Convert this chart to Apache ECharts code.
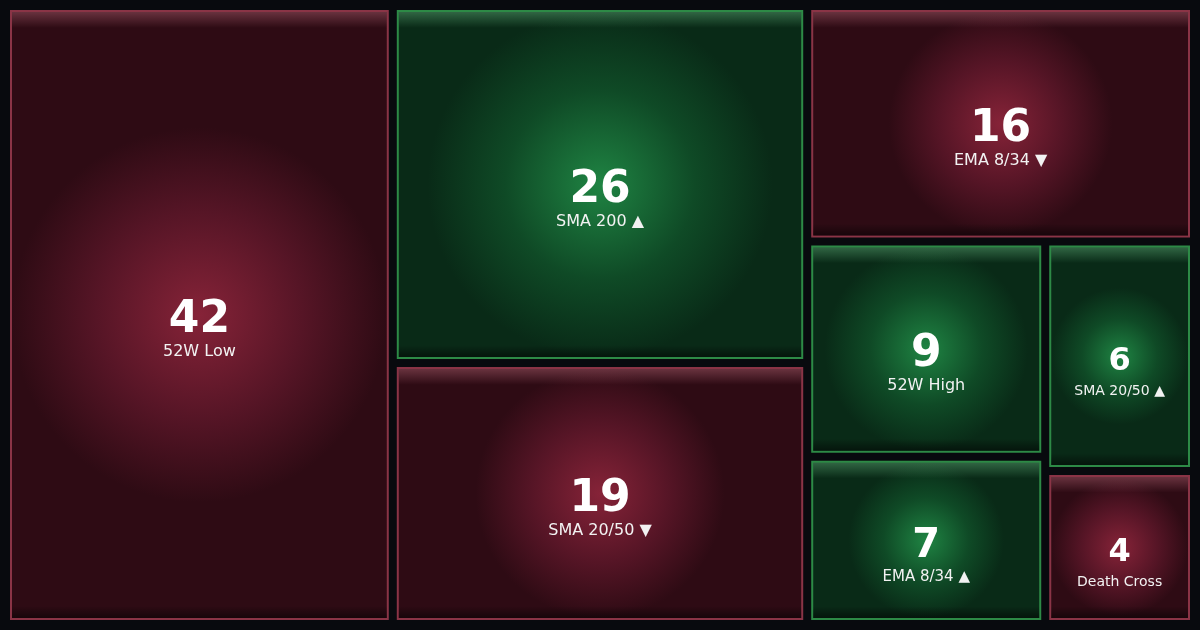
<!DOCTYPE html>
<html>
<head>
<meta charset="utf-8">
<script src="https://cdn.jsdelivr.net/npm/echarts@6/dist/echarts.min.js"></script>
<style>
html,body{margin:0;padding:0;background:#080a0e;}
#c{width:1200px;height:630px;}
</style>
</head>
<body>
<div id="c"></div>
<script>
const names = ['52W Low', 'SMA 200 ▲', 'SMA 20/50 ▼', 'EMA 8/34 ▼', '52W High', 'EMA 8/34 ▲', 'SMA 20/50 ▲', 'Death Cross'];
const values = [42, 26, 19, 16, 9, 7, 6, 4];
const sentiment = ['bear', 'bull', 'bear', 'bear', 'bull', 'bull', 'bull', 'bear'];

const palette = {
  bear: { center: '#862338', mid: '#561526', edge: '#2e0b14', border: '#8a3446' },
  bull: { center: '#1f8443', mid: '#0f4a26', edge: '#092a17', border: '#2d8a46' }
};

function numStyle(v) {
  if (v >= 9) return 'n44';
  if (v >= 7) return 'n40';
  return 'n32';
}
function nameStyle(v) {
  if (v >= 9) return 'l16';
  if (v >= 7) return 'l15';
  return 'l14';
}

const shadowNum = { textShadowColor: 'rgba(150,150,150,1)', textShadowOffsetX: 2, textShadowOffsetY: 2, textShadowBlur: 0 };
const shadowLbl = { textShadowColor: 'rgba(115,115,115,1)', textShadowOffsetX: 1, textShadowOffsetY: 1, textShadowBlur: 0 };
const fam = '"DejaVu Sans", sans-serif';

const common = {
  type: 'treemap',
  left: 10, top: 10, right: 10, bottom: 10,
  roam: false,
  nodeClick: false,
  breadcrumb: { show: false },
  squareRatio: 1,
  levels: [
    { itemStyle: { gapWidth: 8, borderWidth: 0, borderColor: 'transparent' } },
    { itemStyle: { borderWidth: 2 } }
  ]
};

function baseData() {
  return names.map((n, i) => {
    const p = palette[sentiment[i]];
    return {
      name: n,
      value: values[i],
      itemStyle: {
        color: {
          type: 'radial', x: 0.5, y: 0.5, r: 0.5,
          colorStops: [
            { offset: 0, color: p.center },
            { offset: 0.55, color: p.mid },
            { offset: 1, color: p.edge }
          ]
        },
        borderColor: p.border,
        borderWidth: 2
      }
    };
  });
}

function overlayData(layouts) {
  return names.map((n, i) => {
    const L = layouts && layouts[n];
    const H = L ? L.height : 300;
    const a = Math.min(0.5, 16 / H);
    const b = Math.max(0.5, 1 - 12 / H);
    const tone = sentiment[i] === 'bear' ? '255,150,170' : '150,255,180';
    return {
      name: n,
      value: values[i],
      itemStyle: {
        color: {
          type: 'linear', x: 0, y: 0, x2: 0, y2: 1,
          colorStops: [
            { offset: 0, color: 'rgba(' + tone + ',0.28)' },
            { offset: a, color: 'rgba(' + tone + ',0)' },
            { offset: b, color: 'rgba(0,0,0,0)' },
            { offset: 1, color: 'rgba(0,0,0,0.5)' }
          ]
        },
        borderColor: 'rgba(0,0,0,0)',
        borderWidth: 2
      },
      label: { padding: [L ? Math.max(0, H / 2 - 18) : 0, 0, 0, 0] }
    };
  });
}

function build(layouts) {
  return {
    backgroundColor: '#080a0e',
    animation: false,
    series: [
      Object.assign({}, common, {
        id: 'base',
        label: { show: false },
        silent: true,
        data: baseData()
      }),
      Object.assign({}, common, {
        id: 'overlay',
        silent: true,
        label: {
          show: true,
          position: 'inside',
          align: 'center',
          verticalAlign: 'middle',
          formatter: p => `{${numStyle(p.value)}|${p.value}}\n{${nameStyle(p.value)}|${p.name}}`,
          rich: {
            n44: Object.assign({ fontSize: 44, fontWeight: 'bold', color: '#ffffff', fontFamily: fam, lineHeight: 44, align: 'center' }, shadowNum),
            n40: Object.assign({ fontSize: 40, fontWeight: 'bold', color: '#ffffff', fontFamily: fam, lineHeight: 44, align: 'center' }, shadowNum),
            n32: Object.assign({ fontSize: 32, fontWeight: 'bold', color: '#ffffff', fontFamily: fam, lineHeight: 42, align: 'center' }, shadowNum),
            l16: Object.assign({ fontSize: 16, color: '#f2f2f2', fontFamily: fam, lineHeight: 18, align: 'center' }, shadowLbl),
            l15: Object.assign({ fontSize: 15, color: '#f2f2f2', fontFamily: fam, lineHeight: 18, align: 'center' }, shadowLbl),
            l14: Object.assign({ fontSize: 14, color: '#f2f2f2', fontFamily: fam, lineHeight: 18, align: 'center' }, shadowLbl)
          }
        },
        data: overlayData(layouts)
      })
    ]
  };
}

const chart = echarts.init(document.getElementById('c'), null, { renderer: 'canvas' });
chart.setOption(build(null));

const layouts = {};
try {
  const sm = chart.getModel().getSeriesByIndex(0);
  const tree = sm.getData().tree;
  tree.root.eachNode(node => {
    if (node !== tree.root && (!node.children || node.children.length === 0)) {
      layouts[node.name] = node.getLayout();
    }
  });
} catch (e) { console.log(e); }
chart.setOption(build(layouts));
</script>
</body>
</html>
